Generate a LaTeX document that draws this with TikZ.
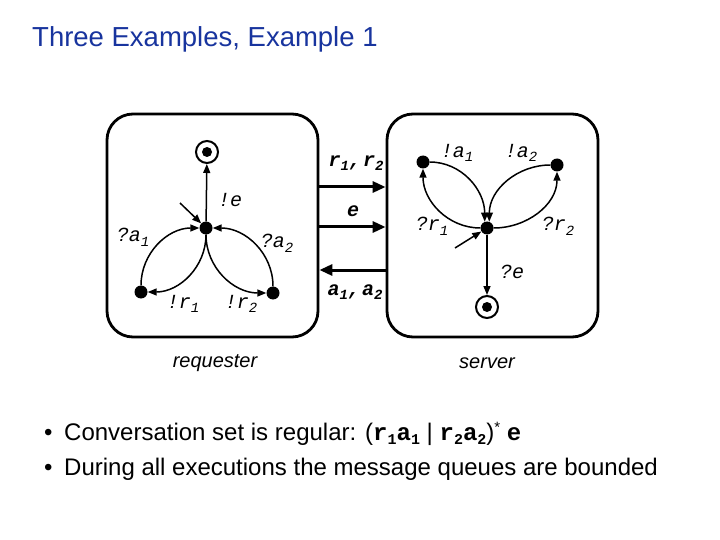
\documentclass[tikz,border=0pt]{standalone}
\usepackage{fontspec}
\setmainfont{Liberation Sans}
\newfontfamily\cour{Liberation Mono}
\usetikzlibrary{arrows.meta}
\definecolor{titleblue}{RGB}{24,52,158}
\newcommand{\lsub}[1]{\raisebox{-0.45ex}{\fontsize{14}{14}\selectfont #1}}
\newcommand{\bsub}[1]{\raisebox{-0.35ex}{\fontsize{15}{15}\selectfont #1}}
\begin{document}
\begin{tikzpicture}[x=1pt,y=-1pt,
  box/.style={draw, line width=2.8pt, rounded corners=26pt, minimum width=211pt, minimum height=223pt, inner sep=0},
  st/.style={circle, fill=black, minimum size=13pt, inner sep=0},
  fin/.style={circle, draw, line width=2pt, minimum size=22pt, inner sep=0, path picture={\fill (path picture bounding box.center) circle (5pt);}},
  edge/.style={line width=1.5pt, -{Triangle[length=9pt,width=7pt]}},
  chan/.style={line width=3pt, -{Triangle[length=13pt,width=11pt]}},
  lab/.style={font=\fontsize{20}{20}\selectfont\cour\itshape, inner sep=0},
  clab/.style={font=\fontsize{20}{20}\selectfont\cour\bfseries\itshape, inner sep=0},
  boxcap/.style={font=\fontsize{20}{20}\selectfont\itshape, inner sep=0},
  txt/.style={font=\fontsize{24}{24}\selectfont, inner sep=0, anchor=base west},
  ]
\useasboundingbox[fill=white] (0,0) rectangle (720,540);

\node[anchor=base west, text=titleblue, font=\fontsize{27.5}{27.5}\selectfont, inner sep=0] (title) at (32,47) {Three Examples, Example 1};

% boxes
\node[box] (req) at (212.5,225.5) {};
\node[box] (srv) at (492.5,225.5) {};
\node[boxcap] (reqlab) at (215,363) {requester};
\node[boxcap] (srvlab) at (487,363) {server};

% requester
\node[fin] (f1) at (207,152) {};
\node[st] (c1) at (206,228) {};
\node[st] (l1) at (141,292) {};
\node[st] (r1) at (273,293) {};
\coordinate (s1) at (180,203);
\draw[edge] (c1) -- (f1);
\draw[edge] (s1) -- (c1);
\draw[edge] (l1) to[out=90,in=180] (c1);
\draw[edge] (c1) to[out=-90,in=0] (l1);
\draw[edge] (r1) to[out=90,in=0] (c1);
\draw[edge] (c1) to[out=-90,in=180] (r1);
\node[lab] (le) at (230,200) {!e};
\node[lab] (la1) at (133,237) {?a\lsub{1}};
\node[lab] (la2) at (277,243) {?a\lsub{2}};
\node[lab] (lr1) at (183,304) {!r\lsub{1}};
\node[lab] (lr2) at (241,304) {!r\lsub{2}};

% server
\node[st] (tl) at (423,162) {};
\node[st] (tr) at (557,165) {};
\node[st] (c2) at (487,228) {};
\node[fin] (f2) at (487,307) {};
\coordinate (s2) at (455,248);
\draw[edge] (c2) -- (f2);
\draw[edge] (s2) -- (c2);
\draw[edge] (c2) to[out=180,in=-90] (tl);
\draw[edge] (tl) to[out=0,in=90] (c2.110);
\draw[edge] (c2) to[out=0,in=-90] (tr);
\draw[edge] (tr) to[out=180,in=90] (c2.70);
\node[lab] (sa1) at (457,153) {!a\lsub{1}};
\node[lab] (sa2) at (521,153) {!a\lsub{2}};
\node[lab] (sr1) at (432,226) {?r\lsub{1}};
\node[lab] (sr2) at (558,226) {?r\lsub{2}};
\node[lab] (se) at (512,272) {?e};

% channels
\coordinate (ch1) at (353,187);
\coordinate (ch2) at (353,227);
\coordinate (ch3) at (353,270);
\draw[chan] (req.east |- ch1) -- (srv.west |- ch1);
\draw[chan] (req.east |- ch2) -- (srv.west |- ch2);
\draw[chan] (srv.west |- ch3) -- (req.east |- ch3);
\node[clab] (cr) at (356,163) {r\lsub{1},\kern2pt r\lsub{2}};
\node[clab] (ce) at (353,211) {e};
\node[clab] (ca) at (355,292) {a\lsub{1},\kern2pt a\lsub{2}};

% bullets
\node[txt] (b1) at (44,440) {\textbullet};
\node[txt] (t1) at (64,440) {Conversation set is regular: ({\cour\bfseries r\bsub{1}a\bsub{1}} | {\cour\bfseries r\bsub{2}a\bsub{2}})\raisebox{0.6ex}{\fontsize{15}{15}\selectfont *} {\cour\bfseries e}};
\node[txt] (b2) at (44,475) {\textbullet};
\node[txt] (t2) at (64,475) {During all executions the message queues are bounded};
\end{tikzpicture}
\end{document}
